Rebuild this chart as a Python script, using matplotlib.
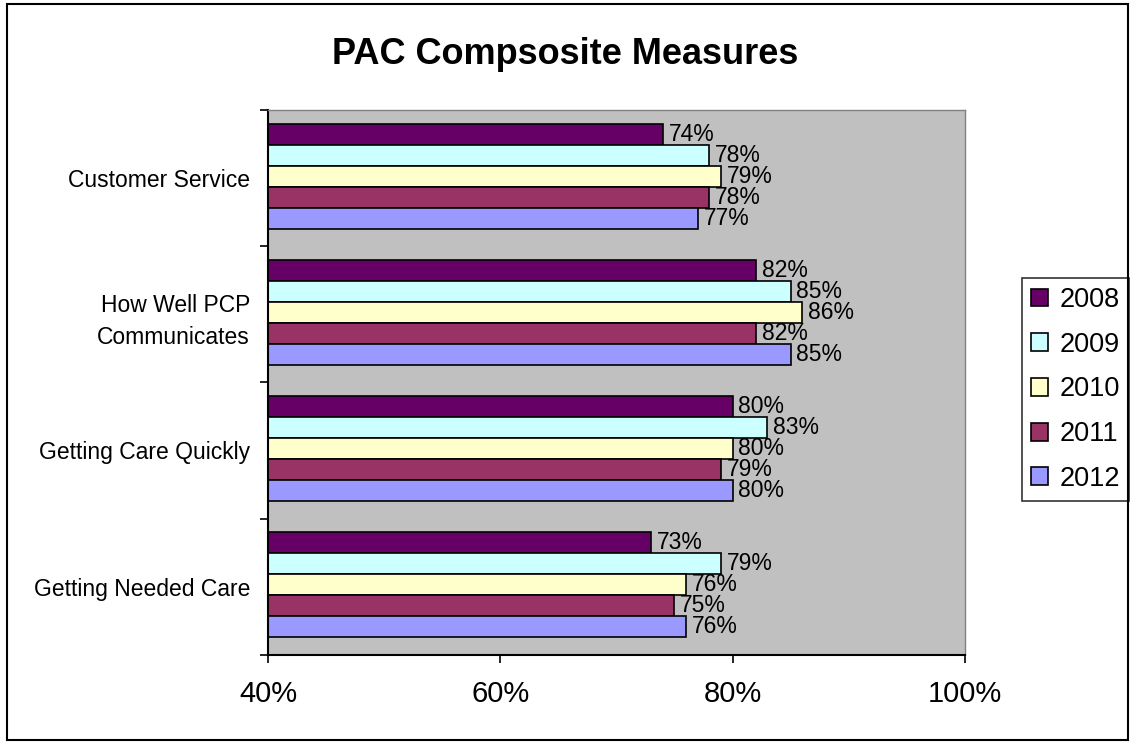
import numpy as np
import matplotlib
matplotlib.use('Agg')
import matplotlib.pyplot as plt
from matplotlib.patches import Rectangle

plt.rcParams['font.family'] = ['Liberation Sans', 'DejaVu Sans']

# categories from bottom to top
categories = ['Getting Needed Care', 'Getting Care Quickly',
              'How Well PCP\nCommunicates', 'Customer Service']
years = ['2008', '2009', '2010', '2011', '2012']
colors = ['#660066', '#CCFFFF', '#FFFFCC', '#993366', '#9999FF']

v2008 = [73, 80, 82, 74]
v2009 = [79, 83, 85, 78]
v2010 = [76, 80, 86, 79]
v2011 = [75, 79, 82, 78]
v2012 = [76, 80, 85, 77]
values = [v2008, v2009, v2010, v2011, v2012]

xticks = [40, 60, 80, 100]

fig = plt.figure(figsize=(11.31, 7.44), dpi=100)
ax = fig.add_axes([0.237, 0.12, 0.616, 0.732])
ax.set_facecolor('#C0C0C0')

y = np.arange(len(categories))
h = 0.154
for j, (yr, vals, c) in enumerate(zip(years, values, colors)):
    # 2008 at top of group
    off = (2 - j) * h + 0.013
    ax.barh(y + off, np.array(vals) - 40, left=40, height=h, color=c,
            edgecolor='black', linewidth=1.2, label=yr)
    for yi, v in zip(y, vals):
        ax.text(v + 0.5, yi + off, f'{v}%', va='center', ha='left', fontsize=16.5)

ax.set_xlim(40, 100)
ax.set_ylim(-0.5, 3.5)
ax.set_xticks(xticks)
ax.set_xticklabels([f'{t}%' for t in xticks], fontsize=21)
ax.set_yticks(y)
ax.set_yticklabels(categories, fontsize=16.5, linespacing=1.5)
ax.set_yticks(np.arange(-0.5, 4, 1), minor=True)
ax.tick_params(axis='y', which='major', length=0, pad=13)
ax.tick_params(axis='y', which='minor', length=6, width=1.2)
ax.tick_params(axis='x', length=6, width=1.2, pad=12)
for s in ['left', 'bottom']:
    ax.spines[s].set_linewidth(1.5)
for s in ['top', 'right']:
    ax.spines[s].set_color('#808080')
    ax.spines[s].set_linewidth(1)

fig.text(0.5, 0.914, 'PAC Compsosite Measures', ha='center', va='baseline',
         fontsize=26, fontweight='bold')

leg = ax.legend(loc='center left', bbox_to_anchor=(1.082, 0.487), fontsize=19.5,
                frameon=True, fancybox=False, edgecolor='black',
                handlelength=0.63, handleheight=0.63, handletextpad=0.4,
                borderpad=0.35, labelspacing=0.69, borderaxespad=0)
leg.get_frame().set_linewidth(1.2)

fig.patches.append(Rectangle((7 / 1131, 4 / 744), 1121 / 1131, 736 / 744,
                             transform=fig.transFigure, fill=False,
                             edgecolor='black', linewidth=1.5))

fig.savefig('out.png', dpi=100)
